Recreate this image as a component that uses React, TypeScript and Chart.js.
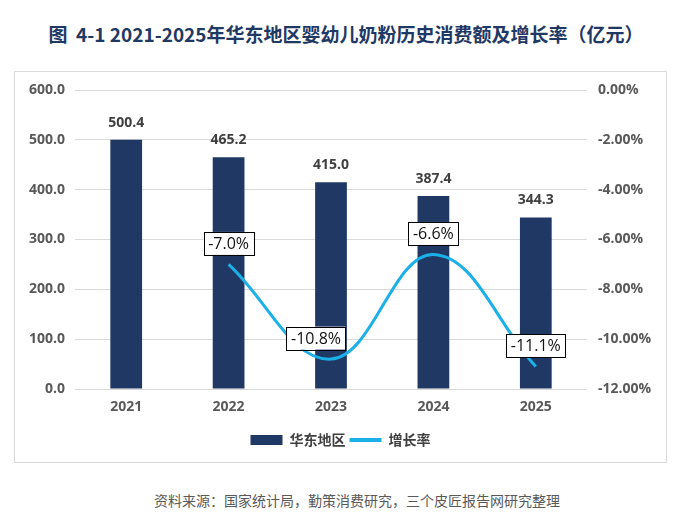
import { useEffect, useRef } from "react";
import { Chart, registerables } from "chart.js";

Chart.register(...registerables);

const years = ["2021", "2022", "2023", "2024", "2025"];
const consumption = [500.4, 465.2, 415.0, 387.4, 344.3];
const growthRate = [null, -7.0, -10.8, -6.6, -11.1];
const leftTicks = [0, 100, 200, 300, 400, 500, 600];
const rightTicks = [-12, -10, -8, -6, -4, -2, 0];

const NAVY = "#1f3864";
const BLUE = "#1cb0e8";
const FONT = "'Open Sans', 'Noto Sans CJK SC', sans-serif";
const CJK = "'Noto Sans CJK SC', 'Open Sans', sans-serif";

// the -10.8% box sits a little left of its point in the original
const rateLabelShift = [0, 0, -15, 0, 0];

const valueLabels = {
    id: "valueLabels",
    afterDatasetsDraw(chart: Chart) {
        const ctx = chart.ctx;
        ctx.save();
        const barMeta = chart.getDatasetMeta(0);
        ctx.font = `bold 14px ${FONT}`;
        ctx.fillStyle = "#404040";
        ctx.textAlign = "center";
        ctx.textBaseline = "middle";
        barMeta.data.forEach((bar, i) => {
            ctx.fillText(consumption[i].toFixed(1), bar.x, bar.y - 17);
        });

        const lineMeta = chart.getDatasetMeta(1);
        ctx.font = `16px ${FONT}`;
        lineMeta.data.forEach((pt, i) => {
            const v = growthRate[i];
            if (v === null) return;
            const text = v.toFixed(1) + "%";
            const w = ctx.measureText(text).width + 9;
            const h = 23;
            const cx = pt.x + rateLabelShift[i];
            const cy = pt.y - 21;
            ctx.fillStyle = "#ffffff";
            ctx.fillRect(cx - w / 2, cy - h / 2, w, h);
            ctx.strokeStyle = "#000000";
            ctx.lineWidth = 1;
            ctx.strokeRect(Math.round(cx - w / 2) + 0.5, Math.round(cy - h / 2) + 0.5, Math.round(w), h);
            ctx.fillStyle = "#111111";
            ctx.fillText(text, cx, cy + 1);
        });
        ctx.restore();
    },
};

export default function App() {
    const canvasRef = useRef<HTMLCanvasElement | null>(null);

    useEffect(() => {
        if (!canvasRef.current) {
            return;
        }

        const chart = new Chart(canvasRef.current, {
            type: "bar",
            data: {
                labels: years,
                datasets: [
                    {
                        type: "bar",
                        label: "华东地区",
                        data: consumption,
                        backgroundColor: NAVY,
                        barPercentage: 0.31,
                        categoryPercentage: 1,
                        yAxisID: "y",
                        order: 2,
                    },
                    {
                        type: "line",
                        label: "增长率",
                        data: growthRate,
                        borderColor: BLUE,
                        backgroundColor: BLUE,
                        borderWidth: 3,
                        tension: 0.4,
                        pointRadius: 0,
                        yAxisID: "y1",
                        order: 1,
                    },
                ] as any,
            },
            options: {
                animation: false,
                responsive: true,
                maintainAspectRatio: false,
                layout: { padding: { top: 12, bottom: 5, left: 0, right: 0 } },
                plugins: {
                    tooltip: { enabled: false },
                    legend: {
                        position: "bottom",
                        labels: {
                            usePointStyle: true,
                            pointStyleWidth: 32,
                            boxHeight: 10,
                            padding: 4,
                            color: "#404040",
                            font: { family: CJK, size: 14, weight: "bold" },
                            generateLabels: () => [
                                {
                                    text: "华东地区",
                                    pointStyle: "rect",
                                    fillStyle: NAVY,
                                    strokeStyle: NAVY,
                                    lineWidth: 0,
                                    datasetIndex: 0,
                                    fontColor: "#404040",
                                },
                                {
                                    text: "增长率",
                                    pointStyle: "line",
                                    fillStyle: BLUE,
                                    strokeStyle: BLUE,
                                    lineWidth: 4,
                                    datasetIndex: 1,
                                    fontColor: "#404040",
                                },
                            ],
                        },
                    },
                },
                scales: {
                    x: {
                        grid: { display: false, drawTicks: false },
                        border: { display: false },
                        ticks: {
                            color: "#595959",
                            padding: 10,
                            font: { family: FONT, size: 14, weight: "bold" },
                        },
                        afterFit: (scale: any) => {
                            scale.height = 40;
                        },
                    },
                    y: {
                        position: "left",
                        min: 0,
                        max: 600,
                        afterBuildTicks: (scale: any) => {
                            scale.ticks = leftTicks.map((v) => ({ value: v }));
                        },
                        grid: { color: "#d9d9d9", drawTicks: false },
                        border: { display: false },
                        ticks: {
                            color: "#595959",
                            padding: 10,
                            font: { family: FONT, size: 14, weight: "bold", lineHeight: 1 },
                            callback: (v: any) => Number(v).toFixed(1),
                        },
                        afterFit: (scale: any) => {
                            scale.width = 60;
                        },
                    },
                    y1: {
                        position: "right",
                        min: -12,
                        max: 0,
                        afterBuildTicks: (scale: any) => {
                            scale.ticks = rightTicks.map((v) => ({ value: v }));
                        },
                        grid: { drawOnChartArea: false, drawTicks: false },
                        border: { display: false },
                        ticks: {
                            color: "#595959",
                            padding: 11,
                            font: { family: FONT, size: 14, weight: "bold", lineHeight: 1 },
                            callback: (v: any) => Number(v).toFixed(2) + "%",
                        },
                        afterFit: (scale: any) => {
                            scale.width = 79;
                        },
                    },
                },
            },
            plugins: [valueLabels],
        });

        return () => chart.destroy();
    }, []);

    return (
        <div
            style={{
                position: "absolute",
                left: 0,
                top: 0,
                width: 692,
                height: 532,
                background: "#ffffff",
                fontFamily: CJK,
            }}
        >
            <div
                style={{
                    position: "absolute",
                    left: 0,
                    top: 22,
                    width: 692,
                    textAlign: "center",
                    fontSize: 19,
                    fontWeight: "bold",
                    color: NAVY,
                    lineHeight: "24px",
                    whiteSpace: "pre",
                }}
            >
                {"图  4-1 2021-2025年华东地区婴幼儿奶粉历史消费额及增长率（亿元）"}
            </div>
            <div
                style={{
                    position: "absolute",
                    left: 14,
                    top: 71,
                    width: 653,
                    height: 392,
                    boxSizing: "border-box",
                    border: "1px solid #d9d9d9",
                }}
            >
                <div style={{ position: "relative", width: 651, height: 390 }}>
                    <canvas ref={canvasRef} />
                </div>
            </div>
            <div
                style={{
                    position: "absolute",
                    left: 0,
                    top: 490,
                    width: 692,
                    paddingLeft: 22,
                    boxSizing: "border-box",
                    textAlign: "center",
                    fontSize: 14,
                    color: "#595959",
                    lineHeight: "20px",
                }}
            >
                资料来源：国家统计局，勤策消费研究，三个皮匠报告网研究整理
            </div>
        </div>
    );
}
